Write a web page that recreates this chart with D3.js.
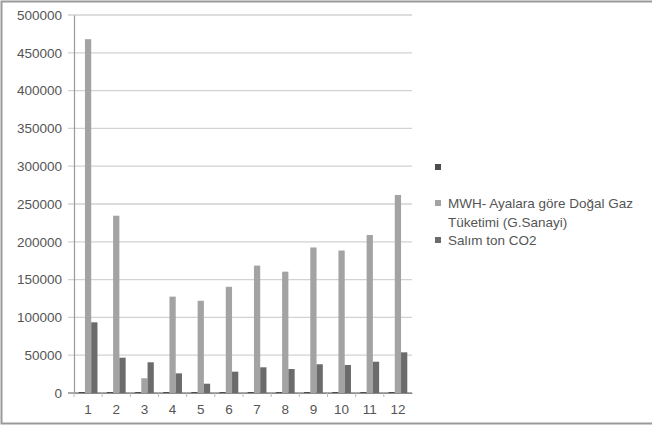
<!DOCTYPE html>
<html><head><meta charset="utf-8">
<script src="https://cdn.jsdelivr.net/npm/d3@7"></script>
<style>body{margin:0;background:#fff}svg{display:block}text{font-family:"Liberation Sans",Arial,sans-serif}</style>
</head><body><svg id="c" width="652" height="429"></svg>
<script>
const months = ["1","2","3","4","5","6","7","8","9","10","11","12"];
const seriesMonth = [1,2,3,4,5,6,7,8,9,10,11,12];
const seriesMWH = [468000,234500,19500,127500,122000,140500,168500,160500,192500,188500,209000,262000];
const seriesCO2 = [93500,46700,40600,26000,12300,28200,34000,31700,38000,37000,41400,53800];
const seriesNames = ["", "MWH- Ayalara göre Doğal Gaz|Tüketimi (G.Sanayi)", "Salım ton CO2"];
const seriesColors = ["#4d4d4d", "#a3a3a3", "#6b6b6b"];
const yTicks = [0,50000,100000,150000,200000,250000,300000,350000,400000,450000,500000];

const svg = d3.select("#c");
// frame
svg.append("rect").attr("x",1.5).attr("y",1.5).attr("width",660).attr("height",422)
  .attr("fill","none").attr("stroke","#9a9a9a").attr("stroke-width",2);

const L=74, R=412, T=15, B=393;
const x = d3.scaleBand().domain(months).range([L,R]).paddingInner(0).paddingOuter(0);
const y = d3.scaleLinear().domain([0,500000]).range([B,T]);
const inner = d3.scaleBand().domain([0,1,2]).range([0,x.bandwidth()]).paddingInner(0).paddingOuter(0.75);

// gridlines
svg.append("g").selectAll("line").data(yTicks).join("line")
  .attr("x1",68).attr("x2",R).attr("y1",d=>y(d)).attr("y2",d=>y(d))
  .attr("stroke",d=>d===0?"#8c8c8c":"#d2d2d2").attr("stroke-width",1.3);

// y axis
const yAxis = svg.append("g").attr("transform",`translate(${L},0)`)
  .call(d3.axisLeft(y).tickValues(yTicks).tickFormat(d3.format("d")).tickSize(0).tickPadding(12));
yAxis.select(".domain").attr("stroke","#9a9a9a").attr("stroke-width",1.2);
yAxis.selectAll("text").attr("font-size",13.5).attr("fill","#555");

// x axis
const xAxis = svg.append("g").attr("transform",`translate(0,${B})`)
  .call(d3.axisBottom(x).tickSize(0).tickPadding(11));
xAxis.select(".domain").attr("stroke","#8c8c8c");
xAxis.selectAll("text").attr("font-size",13.5).attr("fill","#555");
// category boundary ticks
svg.append("g").selectAll("line").data(months).join("line")
  .attr("x1",d=>x(d)).attr("x2",d=>x(d)).attr("y1",B).attr("y2",B+4)
  .attr("stroke","#bbb");

const all = [seriesMonth, seriesMWH, seriesCO2];
all.forEach((vals,si)=>{
  svg.append("g").selectAll("rect").data(vals).join("rect")
    .attr("x",(d,i)=>x(months[i]) + inner(si))
    .attr("width",inner.bandwidth())
    .attr("y",d=>Math.min(y(d), B-1))
    .attr("height",d=>Math.max(B-y(d),1))
    .attr("fill",seriesColors[si]);
});

// legend
const legY = [167, 203, 240];
const lg = svg.append("g");
seriesNames.forEach((n,i)=>{
  lg.append("rect").attr("x",435).attr("y",legY[i]-3).attr("width",6).attr("height",6).attr("fill",seriesColors[i]);
  const lines = n ? n.split("|") : [];
  lines.forEach((t,j)=>{
    lg.append("text").attr("x",448).attr("y",legY[i]+4.5+j*19).attr("font-size",13.5).attr("fill","#555").text(t);
  });
});
</script></body></html>
